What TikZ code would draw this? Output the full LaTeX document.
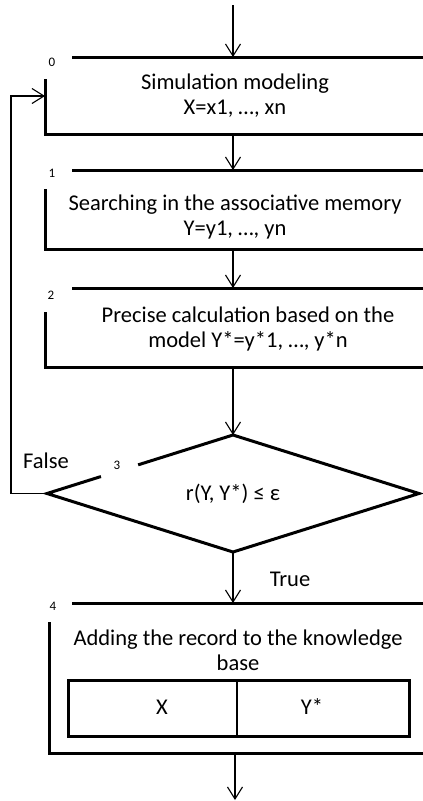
\documentclass[tikz,border=0pt]{standalone}
\usepackage{fontspec}
\setmainfont{Carlito}
\usepackage{tikz}
\usetikzlibrary{calc,positioning,shapes.geometric,arrows.meta}

\begin{document}
\begin{tikzpicture}[x=1pt,y=-1pt,
		blk/.style={line width=3pt},
		flow/.style={line width=1.1pt,-{Straight Barb[length=12pt,width=15pt,line width=1.1pt]}},
		txt/.style={align=center,inner sep=0pt,font=\fontsize{22.5}{25}\selectfont},
		num/.style={inner sep=0pt,font=\fontsize{13}{13}\selectfont}]
		\useasboundingbox (0,0) rectangle (423,801);
		% block 0
		\coordinate(in)   at (233,5);
		\coordinate(top0) at (233,57);
		\coordinate(bot0) at (233,134);
		\coordinate(ent0) at (45,96);
		\draw[blk] (72,57) -- (423,57);
		\draw[blk] (45,79) -- (45,134) -- (423,134);
		\node(num0) [num] at (52,62) {0};
		\node(sim)  [txt] at (235,96) {Simulation modeling\\X=x1, …, xn};
		% block 1
		\coordinate(top1) at (233,170);
		\coordinate(bot1) at (233,249);
		\draw[blk] (72,170) -- (423,170);
		\draw[blk] (45,189) -- (45,249) -- (423,249);
		\node(num1) [num] at (52,173) {1};
		\node(assoc) [txt] at (235,217) {Searching in the associative memory\\Y=y1, …, yn};
		% block 2
		\coordinate(top2) at (233,288);
		\coordinate(bot2) at (233,367);
		\draw[blk] (72,288) -- (423,288);
		\draw[blk] (45,312) -- (45,367) -- (423,367);
		\node(num2) [num] at (51,295) {2};
		\node(calc) [txt] at (248,329) {Precise calculation based on the\\model Y*=y*1, …, y*n};
		% block 3: condition
		\node(cond) [diamond,inner sep=0pt,outer sep=0pt,aspect=3.2,minimum width=372pt,minimum height=117pt,
			font=\fontsize{22.5}{25}\selectfont] at (233,493.5) {r(Y, Y*) ≤ ε};
		\draw[blk,line join=miter] ($(cond.west)!0.29!(cond.north)$) -- (cond.west) -- (cond.south)
			-- (cond.east) -- (cond.north) -- ($(cond.west)!0.49!(cond.north)$);
		\node(num3) [num] at (117,465) {3};
		\node(false) [txt] at (46,461) {False};
		\node(true)  [txt] at (290,579) {True};
		% block 4
		\coordinate(top4) at (233,603);
		\coordinate(bot4) at (235,753);
		\coordinate(out)  at (235,800);
		\draw[blk] (72,603) -- (423,603);
		\draw[blk] (49,622) -- (49,753) -- (423,753);
		\node(num4) [num] at (53,606) {4};
		\node(add) [txt] at (238,650) {Adding the record to the knowledge\\base};
		\draw[blk] (68,680) rectangle (409,736);
		\draw[line width=1.5pt] (237,680) -- (237,736);
		\node(recx) [txt] at (162,707) {X};
		\node(recy) [txt] at (312,707) {Y*};
		% connectors
		\path[flow]
			(in)   edge (top0)
			(bot0) edge (top1)
			(bot1) edge (top2)
			(bot2) edge (cond.north)
			(cond.south) edge (top4)
			(bot4) edge (out);
		\draw[flow] (cond.west) -- ++(-36,0) |- (ent0);
	\end{tikzpicture}
\end{document}
